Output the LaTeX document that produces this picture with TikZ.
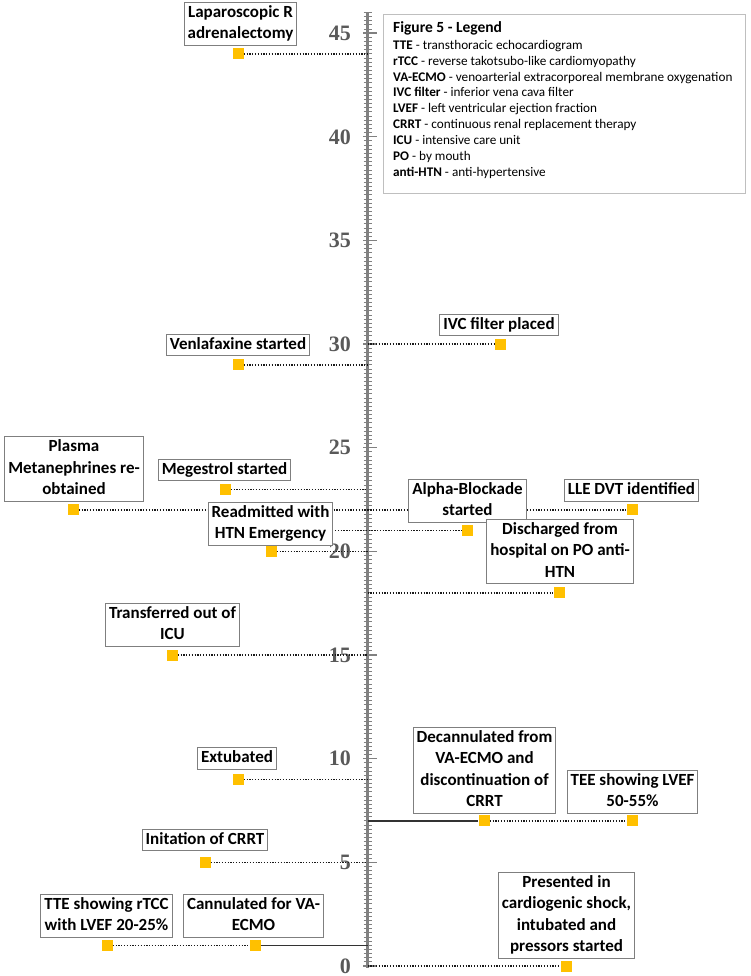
\documentclass[tikz,border=0pt]{standalone}
\usepackage{fontspec}
\setmainfont{Carlito}
\newfontfamily\axisfont{Liberation Serif}
\definecolor{gold}{HTML}{FFC000}
\definecolor{boxgray}{HTML}{7F7F7F}
\definecolor{leggray}{HTML}{BFBFBF}
\definecolor{axgray}{HTML}{808080}
\definecolor{labgray}{HTML}{595959}
\begin{document}
\begin{tikzpicture}[x=1pt,y=-1pt,
  evbox/.style={draw=boxgray, line width=0.9pt, fill=white, align=center,
    font=\bfseries\fontsize{17}{21.5}\selectfont, inner xsep=3.5pt, inner ysep=0pt},
  sq/.style={fill=gold, minimum size=11pt, inner sep=0pt},
  dotline/.style={draw=black!90, line width=1.4pt, dash pattern=on 1.3pt off 1.5pt},
  solidline/.style={draw=black!80, line width=1.3pt},
  axlab/.style={font=\axisfont\bfseries\fontsize{22}{22}\selectfont, text=labgray, anchor=east, inner sep=0pt},
  legtxt/.style={align=left, anchor=north west, inner sep=0pt, font=\fontsize{13.2}{15.9}\selectfont}
]
\useasboundingbox (0,0) rectangle (750,976);

% axis
\coordinate (axtop) at (367.5,12.4);
\coordinate (axbot) at (367.5,968);
\draw[axgray, line width=3.5pt] (axtop) -- (axbot);
\foreach \i in {0,...,230}{
  \pgfmathsetmacro{\yy}{966-4.146*\i}
  \draw[axgray, line width=0.9pt] (363.5,\yy) -- (371.5,\yy);
}
\foreach \v in {0,5,...,45}{
  \pgfmathsetmacro{\yy}{966-20.73*\v}
  \draw[axgray, line width=1.3pt] (363,\yy) -- (377,\yy);
  \node[axlab] (lab\v) at (351,\yy) {\v};
}

% axis attachment points
\coordinate (ax44) at (367.5,53.88);
\coordinate (ax30) at (367.5,344.1);
\coordinate (ax29) at (367.5,364.83);
\coordinate (ax23) at (367.5,489.21);
\coordinate (ax22) at (367.5,509.94);
\coordinate (ax21) at (335,530.67);
\coordinate (ax20) at (367.5,551.4);
\coordinate (ax18) at (367.5,592.86);
\coordinate (ax15) at (367.5,655.05);
\coordinate (ax9) at (367.5,779.43);
\coordinate (ax7) at (367.5,820.89);
\coordinate (ax5) at (367.5,862.35);
\coordinate (ax1) at (367.5,945.27);
\coordinate (ax0) at (367.5,966);

% squares
\node[sq] (s44) at (238,53.88) {};
\node[sq] (s30) at (500,344.1) {};
\node[sq] (s29) at (238,364.83) {};
\node[sq] (s23) at (225,489.21) {};
\node[sq] (s22L) at (73,509.94) {};
\node[sq] (s22R) at (632,509.94) {};
\node[sq] (s21) at (467,530.67) {};
\node[sq] (s20) at (271,551.4) {};
\node[sq] (s18) at (559,592.86) {};
\node[sq] (s15) at (172,655.05) {};
\node[sq] (s9) at (238,779.43) {};
\node[sq] (s7a) at (484,820.89) {};
\node[sq] (s7b) at (632,820.89) {};
\node[sq] (s5) at (205,862.35) {};
\node[sq] (s1a) at (107,945.27) {};
\node[sq] (s1b) at (255,945.27) {};
\node[sq] (s0) at (566,966) {};

% connectors
\draw[dotline] (s44.east) -- (ax44);
\draw[dotline] (ax30) -- (s30.west);
\draw[dotline] (s29.east) -- (ax29);
\draw[dotline] (s23.east) -- (ax23);
\draw[dotline] (s22L.east) -- (ax22);
\draw[dotline] (ax22) -- (s22R.west);
\draw[dotline] (ax21) -- (s21.west);
\draw[dotline] (s20.east) -- (ax20);
\draw[dotline] (ax18) -- (s18.west);
\draw[dotline] (s15.east) -- (ax15);
\draw[dotline] (s9.east) -- (ax9);
\draw[solidline] (ax7) -- (s7a.west);
\draw[dotline] (s7a.east) -- (s7b.west);
\draw[dotline] (s5.east) -- (ax5);
\draw[dotline] (s1a.east) -- (s1b.west);
\draw[solidline] (s1b.east) -- (ax1);
\draw[dotline] (ax0) -- (s0.west);

% event boxes
\node[evbox] (b44) at (240.5,23.5) {\strut Laparoscopic R\\\strut adrenalectomy};
\node[evbox] (b29) at (238,345) {\strut Venlafaxine started};
\node[evbox] (b30) at (499,325) {\strut IVC filter placed};
\node[evbox] (b22L) at (74,469) {\strut Plasma\\\strut Metanephrines re-\\\strut obtained};
\node[evbox] (b23) at (224.5,470) {\strut Megestrol started};
\node[evbox] (b20) at (270.5,523.5) {\strut Readmitted with\\\strut HTN Emergency};
\node[evbox] (b21) at (467.5,500.5) {\strut Alpha-Blockade\\\strut started};
\node[evbox] (b22R) at (631.5,490.5) {\strut LLE DVT identified};
\node[evbox] (b18) at (560,551.5) {\strut Discharged from\\\strut hospital on PO anti-\\\strut HTN};
\node[evbox] (b15) at (172.5,624.5) {\strut Transferred out of\\\strut ICU};
\node[evbox] (b9) at (237,758.5) {\strut Extubated};
\node[evbox] (b7a) at (484.5,770) {\strut Decannulated from\\\strut VA-ECMO and\\\strut discontinuation of\\\strut CRRT};
\node[evbox] (b7b) at (632.5,791.5) {\strut TEE showing LVEF\\\strut 50-55\%};
\node[evbox] (b5) at (205,840) {\strut Initation of CRRT};
\node[evbox] (b1a) at (106.5,915.5) {\strut TTE showing rTCC\\\strut with LVEF 20-25\%};
\node[evbox] (b1b) at (253.5,915.5) {\strut Cannulated for VA-\\\strut ECMO};
\node[evbox] (b0) at (566.5,915) {\strut Presented in\\\strut cardiogenic shock,\\\strut intubated and\\\strut pressors started};

% legend
\node[draw=leggray, line width=0.9pt, fill=white, anchor=north west, minimum width=362pt, minimum height=179pt, inner sep=0pt] (legend) at (383,14) {};
\node[legtxt] (legtext) at (393,21) {{\fontsize{15.5}{17.5}\selectfont\bfseries Figure 5 - Legend}\\[1.3pt]
\textbf{TTE} - transthoracic echocardiogram\\
\textbf{rTCC} - reverse takotsubo-like cardiomyopathy\\
\textbf{VA-ECMO} - venoarterial extracorporeal membrane oxygenation\\
\textbf{IVC filter} - inferior vena cava filter\\
\textbf{LVEF} - left ventricular ejection fraction\\
\textbf{CRRT} - continuous renal replacement therapy\\
\textbf{ICU} - intensive care unit\\
\textbf{PO} - by mouth\\
\textbf{anti-HTN} - anti-hypertensive};
\end{tikzpicture}
\end{document}
